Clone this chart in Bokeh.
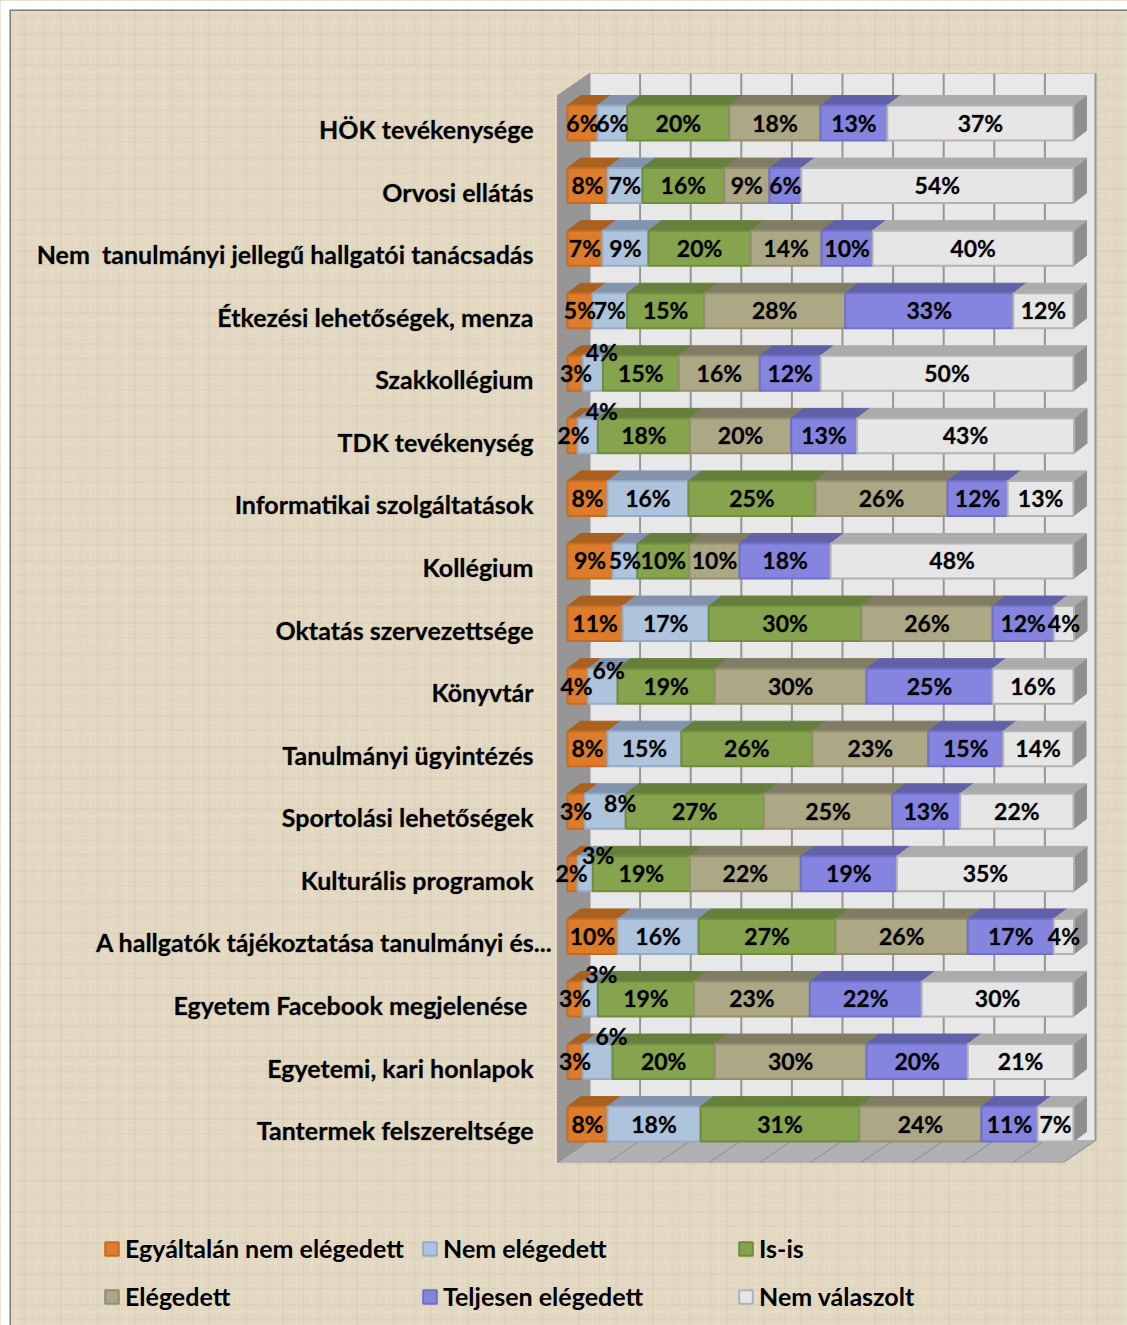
from bokeh.plotting import figure
from bokeh.models import Range1d, Legend, LegendItem
from bokeh.core.properties import value
from bokeh.embed import file_html
from bokeh.resources import INLINE

categories = ["HÖK tevékenysége", "Orvosi ellátás", "Nem\u00a0 tanulmányi jellegű hallgatói tanácsadás",
              "Étkezési lehetőségek, menza", "Szakkollégium", "TDK tevékenység", "Informatikai szolgáltatások",
              "Kollégium", "Oktatás szervezettsége", "Könyvtár", "Tanulmányi ügyintézés", "Sportolási lehetőségek",
              "Kulturális programok", "A hallgatók tájékoztatása tanulmányi és...", "Egyetem Facebook megjelenése\u00a0",
              "Egyetemi, kari honlapok", "Tantermek felszereltsége"]
egyaltalan = [5.9, 7.9, 6.9, 4.9, 3.0, 2.0, 7.9, 8.9, 10.9, 4.0, 7.9, 3.4, 2.0, 9.9, 3.0, 3.0, 7.9]
nem_eleg = [5.9, 6.9, 9.1, 6.9, 4.0, 4.0, 16.0, 4.9, 17.0, 5.9, 14.6, 8.1, 3.0, 16.0, 3.0, 5.9, 18.4]
is_is = [20.2, 16.2, 20.2, 15.2, 15.0, 18.2, 25.1, 10.3, 30.2, 19.2, 25.9, 27.3, 19.2, 27.1, 19.0, 20.2, 31.4]
elegedett = [18.0, 8.9, 14.0, 27.9, 16.0, 20.0, 26.1, 9.9, 25.9, 30.0, 22.9, 25.4, 21.9, 26.1, 22.9, 30.0, 24.1]
teljesen = [13.2, 6.3, 10.1, 33.2, 12.0, 13.0, 11.9, 18.0, 12.1, 24.9, 14.8, 13.4, 19.0, 17.0, 22.1, 20.0, 11.1]
nem_valasz = [36.8, 53.8, 39.7, 11.9, 50.0, 42.9, 13.0, 48.0, 4.0, 16.0, 13.8, 22.4, 35.0, 4.0, 30.0, 20.9, 7.1]
series_names = ["Egyáltalán nem elégedett", "Nem elégedett", "Is-is", "Elégedett", "Teljesen elégedett", "Nem válaszolt"]
series_values = [egyaltalan, nem_eleg, is_is, elegedett, teljesen, nem_valasz]
grid_ticks = [0, 10, 20, 30, 40, 50, 60, 70, 80, 90, 100]

front_col = ["#DD7C2A", "#AEC4DC", "#86A34D", "#ACA785", "#8585E0", "#E6E6E6"]
top_col = ["#A9611F", "#8293AB", "#667F3D", "#817C64", "#6161A8", "#ABABAB"]
edge_col = ["#C56C22", "#97ABC4", "#708C3F", "#938E70", "#7070C8", "#B2B2B2"]
BG = "#E3D9C3"

W, H = 1127, 1325
L, T = 9, 9        # frame origin
PX_X = 5.06        # pixels per percent
PX_Y = 62.57       # pixels per row
X0, Y0 = 567, 122.5   # 0 %, first row centre
DX, DY = 13, 10    # bar depth

texture = ("repeating-linear-gradient(90deg, rgba(255,255,255,.10) 0 1px, transparent 1px 7px, rgba(120,105,80,.06) 7px 8px, transparent 8px 15px, rgba(255,255,255,.08) 15px 17px, transparent 17px 23px, rgba(120,105,80,.05) 23px 25px, transparent 25px 37px),"
           "repeating-linear-gradient(0deg, rgba(255,255,255,.09) 0 1px, transparent 1px 5px, rgba(120,105,80,.06) 5px 6px, transparent 6px 13px, rgba(255,255,255,.07) 13px 14px, transparent 14px 19px, rgba(120,105,80,.05) 19px 21px, transparent 21px 31px),"
           f"{BG}")

p = figure(width=W, height=H, output_backend="svg", toolbar_location=None, min_border=0,
           min_border_left=L, min_border_top=T,
           x_axis_location=None, y_axis_location=None,
           x_range=Range1d((L - X0) / PX_X, (W - X0) / PX_X), y_range=Range1d((H - Y0) / PX_Y, (T - Y0) / PX_Y),
           styles={"background": texture})
p.grid.visible = False
p.background_fill_alpha = 0
p.border_fill_color = "#FFFFFF"
p.outline_line_color = None


def xd(pct, px=0):
    return pct + px / PX_X


def yd(row, px=0):
    return row + px / PX_Y


n = len(categories)
# outer frame
fx, fy, fr, fb = xd(0, L - X0), yd(0, T - Y0), xd(0, W - X0), yd(0, H - Y0)
p.line([fx, fx, fr], [fb, fy, fy], line_color="#808080", line_width=3)

# chart walls
BACK_X, BACK_BOTTOM, BACK_TOP = 22, 1140 - Y0 - PX_Y * (n - 1), 73 - Y0
FRONT_X, FRONT_DROP = -10, 22
by = yd(n - 1, BACK_BOTTOM)
ty = yd(0, BACK_TOP)
p.patch([xd(0, BACK_X), xd(100, BACK_X), xd(100, BACK_X), xd(0, BACK_X)], [ty, ty, by, by],
        fill_color="#E8E8E8", line_color="#C4C4C4", line_width=1)
p.patch([xd(0, FRONT_X), xd(0, BACK_X), xd(0, BACK_X), xd(0, FRONT_X)],
        [yd(0, BACK_TOP + FRONT_DROP), ty, by, yd(n - 1, BACK_BOTTOM + FRONT_DROP)],
        fill_color="#969696", line_color="#969696")
p.patch([xd(0, FRONT_X), xd(0, BACK_X), xd(100, BACK_X), xd(100, FRONT_X)],
        [yd(n - 1, BACK_BOTTOM + FRONT_DROP), by, by, yd(n - 1, BACK_BOTTOM + FRONT_DROP)],
        fill_color="#B0B0B0", line_color="#B0B0B0")
p.segment([xd(t, BACK_X) for t in grid_ticks], [ty] * len(grid_ticks),
          [xd(t, BACK_X) for t in grid_ticks], [by] * len(grid_ticks), line_color="#969696", line_width=2)
p.segment([xd(t, BACK_X) for t in grid_ticks], [by] * len(grid_ticks),
          [xd(t, FRONT_X) for t in grid_ticks], [yd(n - 1, BACK_BOTTOM + FRONT_DROP)] * len(grid_ticks),
          line_color="#8C8C8C", line_width=1)

# bars
rows = list(range(n))
half = 17.5 / PX_Y
cum = [0.0] * n
items = []
label_x, label_y, label_t, label_dx, label_dy = [], [], [], [], []
shift = {(4, 1): (9, -21), (5, 1): (14, -24), (9, 1): (6, -16), (11, 1): (15, -8), (12, 1): (13, -18),
         (14, 1): (11, -24), (15, 1): (14, -25), (4, 0): (1, 0), (5, 0): (1, 0), (9, 0): (-1, 0),
         (12, 0): (-1, 0)}
for s, (name, vals) in enumerate(zip(series_names, series_values)):
    left = cum[:]
    right = [a + b for a, b in zip(left, vals)]
    if s == len(series_names) - 1:
        p.patches([[xd(r), xd(r, DX), xd(r, DX), xd(r)] for r in right],
                  [[yd(i, -17.5), yd(i, -17.5 - DY), yd(i, 17.5 - DY), yd(i, 17.5)] for i in rows],
                  fill_color="#8F8F8F", line_color="#8F8F8F")
    p.patches([[xd(a), xd(a, DX), xd(b, DX), xd(b)] for a, b in zip(left, right)],
              [[yd(i, -17.5), yd(i, -17.5 - DY), yd(i, -17.5 - DY), yd(i, -17.5)] for i in rows],
              fill_color=top_col[s], line_color=top_col[s])
    r = p.hbar(y=rows, left=left, right=right, height=2 * half, fill_color=front_col[s],
               line_color=edge_col[s], line_width=2)
    items.append(LegendItem(label=name, renderers=[r]))
    for i in rows:
        dx, dy = shift.get((i, s), (0, 0))
        label_x.append((left[i] + right[i]) / 2)
        label_y.append(i)
        label_t.append(f"{round(vals[i])}%")
        label_dx.append(dx)
        label_dy.append(dy - 0.5)
    cum = right

p.text(x=label_x, y=label_y, text=label_t, x_offset=label_dx, y_offset=label_dy, text_align="center",
       text_baseline="middle", text_font=value("Lato"), text_font_style="bold", text_font_size="23px",
       text_color="#000000", text_outline_color="#00000040")

cat_dx = [-34] * n
cat_dx[13] = -15
p.text(x=[0] * n, y=rows, text=categories, x_offset=cat_dx, y_offset=[6] * n, text_align="right",
       text_baseline="middle", text_font=value("Lato"), text_font_style="bold", text_font_size="25px",
       text_color="#000000", text_outline_color="#00000040")

for col, (a, b) in enumerate([(0, 3), (1, 4), (2, 5)]):
    p.add_layout(Legend(items=[items[a], items[b]], location=([94, 412, 728][col], 14), orientation="vertical",
                        background_fill_alpha=0, border_line_alpha=0, label_text_font="Lato",
                        label_text_font_style="bold", label_text_font_size="25px", label_text_color="#000000",
                        glyph_width=17, glyph_height=17, label_standoff=5, label_height=20, spacing=18,
                        margin=0, padding=0), "center")

open("out.html", "w").write(file_html(p, INLINE))
